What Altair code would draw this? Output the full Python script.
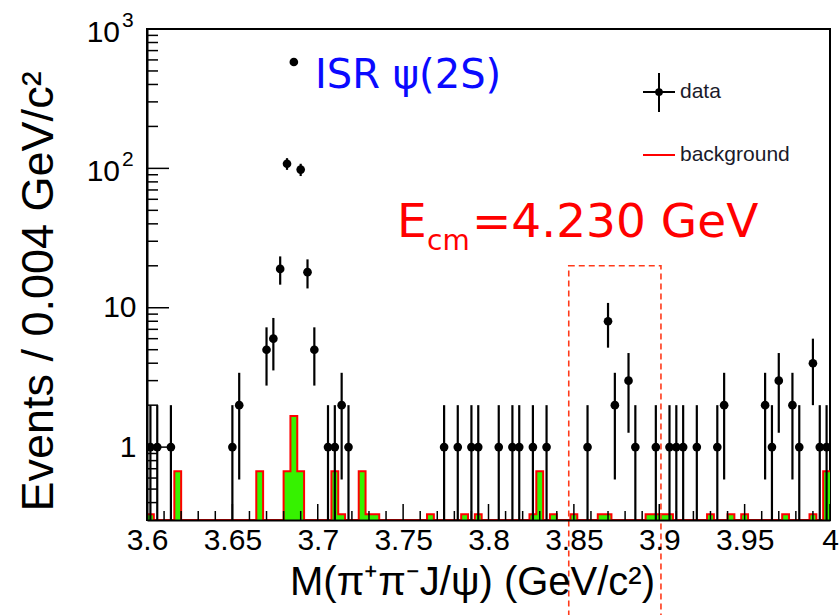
import altair as alt
import pandas as pd
import numpy as np

# ---------------- data ----------------
# data points: bin centres (GeV/c^2) and event counts
DATA_MASS = [3.602, 3.606, 3.614, 3.650, 3.654, 3.670, 3.674, 3.678, 3.682, 3.686, 3.690, 3.694, 3.698,
             3.706, 3.710, 3.714, 3.718, 3.774, 3.782, 3.790, 3.794, 3.806, 3.814, 3.818, 3.826, 3.834,
             3.858, 3.870, 3.874, 3.882, 3.886, 3.898, 3.906, 3.910, 3.914, 3.922, 3.934, 3.938, 3.962,
             3.966, 3.970, 3.978, 3.982, 3.990, 3.994, 3.998]
DATA_COUNTS = [1, 1, 1, 1, 2, 5, 6, 19, 108, 580, 98, 18, 5,
               1, 1, 2, 1, 1, 1, 1, 1, 1, 1, 1, 1, 1,
               1, 8, 2, 3, 1, 1, 1, 1, 1, 1, 1, 2, 2,
               1, 3, 2, 1, 4, 1, 1]

# background histogram: non-empty bin centres and contents
BKG_MASS = [3.602, 3.618, 3.666, 3.682, 3.686, 3.690, 3.710, 3.714, 3.726, 3.730,
            3.734, 3.766, 3.786, 3.794, 3.826, 3.830, 3.838, 3.850, 3.866, 3.870,
            3.894, 3.898, 3.902, 3.906, 3.930, 3.942, 3.950, 3.974, 3.990, 3.998]
BKG_VALUE = [0.33, 0.67, 0.67, 0.67, 1.67, 0.67, 0.67, 0.33, 0.67, 0.33,
             0.33, 0.33, 0.33, 0.33, 0.33, 0.67, 0.33, 0.33, 0.33, 0.33,
             0.33, 0.33, 0.33, 0.33, 0.33, 0.33, 0.33, 0.33, 0.33, 0.67]

X_TICK_MAJOR = [3.6, 3.65, 3.7, 3.75, 3.8, 3.85, 3.9, 3.95, 4.0]
Y_TICK_MAJOR = [1, 10, 100, 1000]
Y_TICK_BASE = ["1", "10", "10", "10"]
Y_TICK_EXP = ["", "", "2", "3"]
Y_TICK_MINOR = [0.4, 0.5, 0.6, 0.7, 0.8, 0.9, 2, 3, 4, 5, 6, 7, 8, 9,
                20, 30, 40, 50, 60, 70, 80, 90, 200, 300, 400, 500, 600, 700, 800, 900]

X_TITLE = "M(π⁺π⁻J/ψ) (GeV/c²)"
Y_TITLE = "Events / 0.004 GeV/c²"
LEGEND_LABELS = ["data", "background"]

# ---------------- settings ----------------
X_MIN, X_MAX = 3.6, 4.0
Y_MIN, Y_MAX = 0.3, 1000
BIN_W = 0.004
W, H = 683, 491
GREEN = "#36f200"
RED = "#ff0000"
FONT = "Liberation Sans"

# ---------------- tables ----------------
pts = pd.DataFrame({"mass": DATA_MASS, "n": DATA_COUNTS})
pts["lo"] = np.maximum(pts["n"] - np.sqrt(pts["n"]), Y_MIN)
pts["hi"] = pts["n"] + np.sqrt(pts["n"])

n_bins = int(round((X_MAX - X_MIN) / BIN_W))
contents = [0.0] * n_bins
for m, v in zip(BKG_MASS, BKG_VALUE):
    contents[int(round((m - X_MIN - BIN_W / 2) / BIN_W))] = v
edges = [round(X_MIN + BIN_W * i, 4) for i in range(n_bins + 1)]
hist = pd.DataFrame({"edge": edges,
                     "v": [max(c, Y_MIN) for c in contents] + [max(contents[-1], Y_MIN)]})

x_minor = [round(X_MIN + 0.01 * k, 2) for k in range(41)]
x_minor = [t for t in x_minor if all(abs(t - M) > 1e-9 for M in X_TICK_MAJOR)]
xt_major = pd.DataFrame({"t": X_TICK_MAJOR})
xt_minor = pd.DataFrame({"t": x_minor})
yt_major = pd.DataFrame({"t": Y_TICK_MAJOR})
yt_minor = pd.DataFrame({"t": Y_TICK_MINOR})
ypow = pd.DataFrame({"t": Y_TICK_MAJOR, "b": Y_TICK_BASE, "e": Y_TICK_EXP})
ypow = ypow[ypow["e"] != ""]
one = pd.DataFrame({"a": [0]})

xs = alt.Scale(domain=[X_MIN, X_MAX], nice=False, zero=False)
ys = alt.Scale(type="log", domain=[Y_MIN, Y_MAX], nice=False)

# plain labels go through the axis; powers of ten are drawn as base + exponent texts
label_expr = " : ".join(
    f"datum.value == {v} ? '{b if not e else ''}'"
    for v, b, e in zip(Y_TICK_MAJOR[::-1], Y_TICK_BASE[::-1], Y_TICK_EXP[::-1])
) + " : ''"

x_axis = alt.Axis(values=X_TICK_MAJOR, format="~g", labelFontSize=30, labelPadding=5,
                  labelFlush=False, labelOverlap=False, labelBound=False,
                  ticks=False, tickSize=0, grid=False, domainColor="black", domainWidth=2,
                  title=X_TITLE, titleFontSize=40, titleFontWeight="normal",
                  titleX=325, titleY=62, titleBaseline="middle", zindex=1)
y_axis = alt.Axis(values=Y_TICK_MAJOR, labelExpr=label_expr, labelFontSize=30, labelPadding=11,
                  labelFlush=False, labelOverlap=False, labelBound=False,
                  ticks=False, tickSize=0, grid=False, domainColor="black", domainWidth=2,
                  title=Y_TITLE, titleFontSize=45, titleFontWeight="normal",
                  titleX=-109, titleY=262, titleBaseline="middle", titleAngle=270, zindex=1)


def X(f):
    return alt.X(f, scale=xs, axis=x_axis)


def Y(f):
    return alt.Y(f, scale=ys, axis=y_axis)


def XD(v):
    return alt.XDatum(v, scale=xs, axis=x_axis)


def YD(v):
    return alt.YDatum(v, scale=ys, axis=y_axis)


# ---------------- layers ----------------
fill = alt.Chart(hist).mark_area(interpolate="step-after", color=GREEN, opacity=1).encode(
    x=X("edge:Q"), y=Y("v:Q"), y2=alt.Y2Datum(Y_MIN),
)
outline = alt.Chart(hist).mark_line(interpolate="step-after", color=RED, strokeWidth=2).encode(
    x=X("edge:Q"), y=Y("v:Q"),
)

xtick_maj = alt.Chart(xt_major).mark_rule(color="black", strokeWidth=1.5).encode(
    x=X("t:Q"), y=alt.value(H), y2=alt.value(H - 16))
xtick_min = alt.Chart(xt_minor).mark_rule(color="black", strokeWidth=1.5).encode(
    x=X("t:Q"), y=alt.value(H), y2=alt.value(H - 9))
ytick_maj = alt.Chart(yt_major).mark_rule(color="black", strokeWidth=1.5).encode(
    y=Y("t:Q"), x=alt.value(0), x2=alt.value(22))
ytick_min = alt.Chart(yt_minor).mark_rule(color="black", strokeWidth=1.5).encode(
    y=Y("t:Q"), x=alt.value(0), x2=alt.value(11))
ypow_base = alt.Chart(ypow).mark_text(font=FONT, fontSize=30, color="black", align="right",
                                      baseline="middle", dy=4).encode(
    y=Y("t:Q"), x=alt.value(-27), text="b:N")
ypow_exp = alt.Chart(ypow).mark_text(font=FONT, fontSize=21, color="black", align="left",
                                     baseline="middle", dy=-8).encode(
    y=Y("t:Q"), x=alt.value(-25), text="e:N")

errbars = alt.Chart(pts).mark_rule(color="black", strokeWidth=2.2).encode(
    x=X("mass:Q"), y=Y("lo:Q"), y2="hi:Q",
)
points = alt.Chart(pts).mark_circle(color="black", size=75, opacity=1).encode(
    x=X("mass:Q"), y=Y("n:Q"),
)

box = alt.Chart(one).mark_rect(fill=None, stroke="#ff3a1a", strokeWidth=1.6,
                               strokeDash=[6, 4]).encode(
    x=XD(3.847), x2=alt.X2Datum(3.901),
    y=YD(20), y2=alt.value(600),
)

isr = alt.Chart(one).mark_text(text="ISR ψ(2S)", font="DejaVu Sans", fontSize=40,
                               color="#0a0aff", align="left", baseline="middle").encode(
    x=XD(3.6984), y=YD(460))
ecm_e = alt.Chart(one).mark_text(text="E", font="DejaVu Sans", fontSize=47, color=RED,
                                 align="left", baseline="alphabetic").encode(
    x=XD(3.7464), y=YD(32.2))
ecm_sub = alt.Chart(one).mark_text(text="cm", font="DejaVu Sans", fontSize=28, color=RED,
                                   align="left", baseline="alphabetic").encode(
    x=XD(3.7640), y=YD(26.0))
ecm_val = alt.Chart(one).mark_text(text="=4.230 GeV", font="DejaVu Sans", fontSize=47, color=RED,
                                   align="left", baseline="alphabetic").encode(
    x=XD(3.7903), y=YD(32.2))

# legend (drawn by hand, ROOT style)
leg_h = alt.Chart(one).mark_rule(color="black", strokeWidth=2).encode(
    x=alt.value(496), x2=alt.value(528), y=alt.value(63))
leg_v = alt.Chart(one).mark_rule(color="black", strokeWidth=2).encode(
    x=alt.value(512), y=alt.value(44), y2=alt.value(83))
leg_p = alt.Chart(one).mark_circle(color="black", size=60, opacity=1).encode(
    x=alt.value(512), y=alt.value(63))
leg_t1 = alt.Chart(one).mark_text(text=LEGEND_LABELS[0], font=FONT, fontSize=21, color="#1a1a2a",
                                  align="left", baseline="middle").encode(
    x=alt.value(533), y=alt.value(63))
leg_r = alt.Chart(one).mark_rule(color=RED, strokeWidth=2).encode(
    x=alt.value(496), x2=alt.value(528), y=alt.value(126))
leg_t2 = alt.Chart(one).mark_text(text=LEGEND_LABELS[1], font=FONT, fontSize=21, color="#1a1a2a",
                                  align="left", baseline="middle").encode(
    x=alt.value(533), y=alt.value(126))

chart = alt.layer(
    fill, outline, xtick_min, xtick_maj, ytick_min, ytick_maj, ypow_base, ypow_exp,
    errbars, points, box, isr, ecm_e, ecm_sub, ecm_val,
    leg_h, leg_v, leg_p, leg_t1, leg_r, leg_t2,
).properties(
    width=W, height=H,
    autosize=alt.AutoSizeParams(type="none"),
    padding={"left": 147, "top": 29, "right": 9, "bottom": 95},
    background="white",
).configure_axis(
    labelFont=FONT, titleFont=FONT, labelColor="black", titleColor="black",
).configure_view(
    stroke="black", strokeWidth=2,
)

chart.save("out.html", embed_options={"renderer": "svg", "actions": False})
